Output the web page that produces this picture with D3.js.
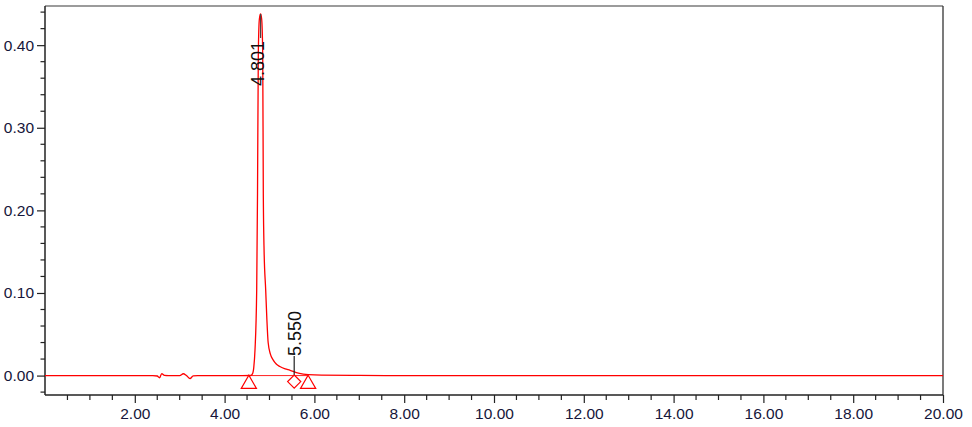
<!DOCTYPE html>
<html>
<head>
<meta charset="utf-8">
<script src="https://cdn.jsdelivr.net/npm/d3@7"></script>
<style>
    body { margin: 0; background: #fff; }
    svg { display: block; }
    .tickText { font-family: "Liberation Sans", Arial, sans-serif; font-size: 15.5px; fill: #16163a; }
    .peakText { font-family: "Liberation Sans", Arial, sans-serif; font-size: 18px; fill: #111; }
</style>
</head>
<body>
<script>
//Trace (minutes, AU)
var traceTime = [0.00, 2.40, 2.50, 2.55, 2.60, 2.66, 2.75, 3.00, 3.08, 3.15, 3.23, 3.30, 3.40,
                 4.40, 4.58, 4.62, 4.65, 4.677, 4.715, 4.733, 4.751, 4.775, 4.801,
                 4.825, 4.849, 4.862, 4.88, 4.915, 4.94, 4.97, 5.02, 5.08, 5.15, 5.23, 5.35, 5.46, 5.60, 5.75, 6.00, 7.00, 8.00, 20.00];
var traceAbs  = [0.0000, 0.0000, -0.0005, -0.0027, 0.0024, 0.0002, 0.0000, 0.0000, 0.0022, 0.0000, -0.0036, -0.0004, 0.0000,
                 0.0000, 0.0001, 0.0020, 0.0100, 0.0310, 0.1040, 0.2200, 0.3900, 0.4320, 0.4377,
                 0.4320, 0.3900, 0.2200, 0.1500, 0.1040, 0.0700, 0.0400, 0.0260, 0.0190, 0.0140, 0.0110, 0.0080, 0.0064, 0.0035, 0.0018, 0.0008, 0.0002, 0.0000, 0.0000];

//Peak labels and integration markers
var peakTimes  = [4.801, 5.550];
var peakLabels = ['4.801', '5.550'];
var peakHeights = [0.4377, 0.0030];
var startMarks = [4.54, 5.86];
var dropMarks  = [5.55];

//Axis ticks
var xMajor = [2, 4, 6, 8, 10, 12, 14, 16, 18, 20];
var xMinorStep = 0.5;
var yMajor = [0.00, 0.10, 0.20, 0.30, 0.40];
var yMinorStep = 0.02;

function setChart(){
    var width = 972,
        height = 427;
    var left = 45, right = 943, top = 6, bottom = 395;

    var svg = d3.select('body')
        .append('svg')
        .attr('width', width)
        .attr('height', height);

    var x = d3.scaleLinear().domain([0, 20]).range([left, right]);
    var y = d3.scaleLinear().domain([-0.0235, 0.4474]).range([bottom, top]);

    var xMinor = d3.range(0, 20.001, xMinorStep).filter(function(d){ return d > 0 && d % 2 !== 0; });
    var yMinor = d3.range(-0.02, 0.4401, yMinorStep).filter(function(d){
        return Math.abs(Math.round(d * 10) - d * 10) > 0.001;
    });

    //Frame
    svg.append('line').attr('x1', left).attr('x2', right).attr('y1', top).attr('y2', top)
        .attr('stroke', '#7a7a7a').attr('stroke-width', 1.5);
    svg.append('line').attr('x1', right).attr('x2', right).attr('y1', top).attr('y2', bottom)
        .attr('stroke', '#333').attr('stroke-width', 1.3);

    //X axis
    var xAxis = svg.append('g').attr('transform', 'translate(0,' + bottom + ')');
    xAxis.call(d3.axisBottom(x).tickValues(xMajor).tickSize(8).tickPadding(5)
        .tickFormat(d3.format('.2f')));
    xAxis.append('g').selectAll('line')
        .data(xMinor).enter().append('line')
        .attr('x1', function(d){ return x(d); })
        .attr('x2', function(d){ return x(d); })
        .attr('y1', 0).attr('y2', 5);

    //Y axis
    var yAxis = svg.append('g').attr('transform', 'translate(' + left + ',0)');
    yAxis.call(d3.axisLeft(y).tickValues(yMajor).tickSize(8).tickPadding(3)
        .tickFormat(d3.format('.2f')));
    yAxis.append('g').selectAll('line')
        .data(yMinor).enter().append('line')
        .attr('x1', -4.5).attr('x2', 0)
        .attr('y1', function(d){ return y(d); })
        .attr('y2', function(d){ return y(d); });

    [xAxis, yAxis].forEach(function(g){
        g.attr('font-family', null).attr('font-size', null);
        g.select('.domain').attr('stroke', '#222').attr('stroke-width', 1.5);
        g.selectAll('line').attr('stroke', '#222').attr('stroke-width', 1.2);
        g.selectAll('text').attr('class', 'tickText');
    });
    yAxis.select('.domain').attr('d', 'M0,' + top + 'V' + bottom);
    xAxis.select('.domain').attr('d', 'M' + left + ',0H' + right);

    //Trace
    var traceData = traceTime.map(function(t, i){ return [t, traceAbs[i]]; });
    var line = d3.line()
        .x(function(d){ return x(d[0]); })
        .y(function(d){ return y(d[1]); })
        .curve(d3.curveMonotoneX);

    //Integration baseline
    svg.append('line')
        .attr('x1', x(startMarks[0])).attr('x2', x(startMarks[1]))
        .attr('y1', y(0)).attr('y2', y(0))
        .attr('stroke', '#ff2020').attr('stroke-width', 1);

    svg.append('path')
        .datum(traceData)
        .attr('d', line)
        .attr('fill', 'none')
        .attr('stroke', '#ff0000')
        .attr('stroke-width', 1.3);

    //Peak apex tick for the main peak
    svg.append('line')
        .attr('x1', x(peakTimes[0])).attr('x2', x(peakTimes[0]))
        .attr('y1', y(peakHeights[0])).attr('y2', y(peakHeights[0]) + 24)
        .attr('stroke', '#444').attr('stroke-width', 1.2);

    //Tick line for the small peak
    svg.append('line')
        .attr('x1', x(peakTimes[1])).attr('x2', x(peakTimes[1]))
        .attr('y1', y(peakHeights[1]) + 4).attr('y2', y(peakHeights[1]) - 17)
        .attr('stroke', '#222').attr('stroke-width', 1.2);

    //Triangle markers at peak start / end
    var tri = d3.symbol().type(d3.symbolTriangle).size(100);
    svg.selectAll('.startMark')
        .data(startMarks).enter().append('path')
        .attr('class', 'startMark')
        .attr('d', tri)
        .attr('transform', function(d){ return 'translate(' + x(d) + ',' + (y(0) + 8.5) + ')'; })
        .attr('fill', 'white').attr('stroke', '#ff0000').attr('stroke-width', 1.2);

    //Diamond markers at drop lines
    var dia = d3.symbol().type(d3.symbolDiamond2).size(110);
    svg.selectAll('.dropMark')
        .data(dropMarks).enter().append('path')
        .attr('class', 'dropMark')
        .attr('d', dia)
        .attr('transform', function(d){ return 'translate(' + x(d) + ',' + (y(0) + 6) + ')'; })
        .attr('fill', 'white').attr('stroke', '#ff0000').attr('stroke-width', 1.2);

    //Peak labels, rotated
    var labelBase = [y(peakHeights[0]) + 72, y(peakHeights[1]) - 17];
    var labelShift = [3.5, 6.5];
    svg.selectAll('.peakText')
        .data(peakLabels).enter().append('text')
        .attr('class', 'peakText')
        .attr('transform', function(d, i){
            return 'translate(' + (x(peakTimes[i]) + labelShift[i]) + ',' + labelBase[i] + ') rotate(-90)';
        })
        .attr('text-anchor', 'start')
        .text(function(d){ return d; });
}

window.onload = setChart();
</script>
</body>
</html>
